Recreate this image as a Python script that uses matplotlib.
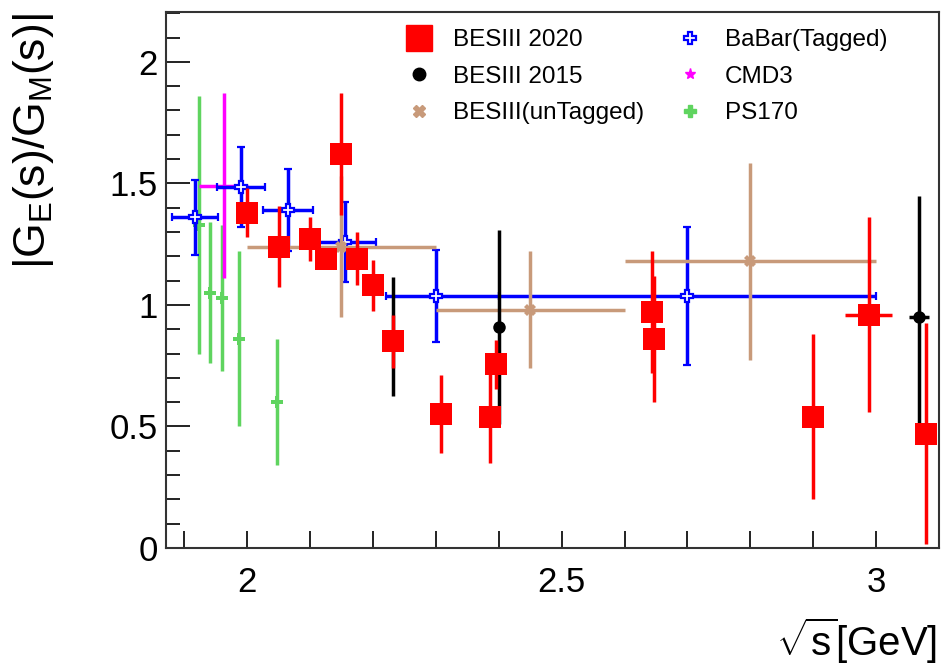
import matplotlib
matplotlib.use('Agg')
import matplotlib.pyplot as plt
from matplotlib.lines import Line2D
from matplotlib.ticker import MultipleLocator, FormatStrFormatter

plt.rcParams['font.family'] = ['Liberation Sans', 'DejaVu Sans']
plt.rcParams['mathtext.fontset'] = 'custom'
plt.rcParams['mathtext.rm'] = 'Liberation Sans'
plt.rcParams['mathtext.it'] = 'Liberation Sans'
plt.rcParams['mathtext.bf'] = 'Liberation Sans:bold'

# BESIII 2020
bes20_x = [2.0, 2.05, 2.1, 2.125, 2.15, 2.175, 2.2, 2.2324, 2.309, 2.396, 2.3864,
           2.6444, 2.6464, 2.9, 2.988, 3.08]
bes20_y = [1.38, 1.24, 1.27, 1.19, 1.62, 1.19, 1.08, 0.85, 0.55, 0.755, 0.54,
           0.97, 0.86, 0.54, 0.96, 0.47]
bes20_yerr = [0.10, 0.165, 0.09, 0.04, 0.25, 0.11, 0.105, 0.11, 0.16, 0.10, 0.19,
              0.25, 0.26, 0.34, 0.40, 0.455]
bes20_xerr = [0, 0, 0, 0, 0, 0, 0, 0, 0, 0, 0, 0, 0, 0, 0.037, 0]

# BESIII 2015
bes15_x = [2.2324, 2.4, 3.068]
bes15_y = [0.87, 0.91, 0.95]
bes15_yerr = [0.245, 0.40, 0.50]
bes15_xerr = [0, 0, 0.016]

# BESIII untagged
untag_x = [2.15, 2.45, 2.8]
untag_y = [1.24, 0.98, 1.18]
untag_xerr = [0.15, 0.15, 0.20]
untag_yerr = [0.29, 0.24, 0.405]

# BaBar tagged
babar_x = [1.917, 1.99, 2.065, 2.155, 2.30, 2.70]
babar_y = [1.36, 1.485, 1.39, 1.26, 1.036, 1.036]
babar_xlo = [0.037, 0.038, 0.04, 0.05, 0.08, 0.30]
babar_xhi = [0.037, 0.038, 0.04, 0.05, 0.10, 0.30]
babar_yerr = [0.155, 0.163, 0.17, 0.165, 0.19, 0.285]

# CMD3
cmd3_x = [1.963]
cmd3_y = [1.49]
cmd3_xerr = [0.039]
cmd3_yerr = [0.38]

# PS170
ps170_x = [1.923, 1.941, 1.960, 1.987, 2.047]
ps170_y = [1.33, 1.05, 1.03, 0.86, 0.60]
ps170_yerr = [0.53, 0.29, 0.30, 0.36, 0.26]

RED = '#ff0000'
BROWN = '#c89a7a'
BLUE = '#0000ff'
MAGENTA = '#ff00ff'
GREEN = '#5fd45f'


def draw_set(ax, x, y, xerr, yerr, color, marker, ms, z, mfc=None, mew=0.0, caps=3.0):
    ax.errorbar(x, y, xerr=xerr, yerr=yerr, fmt=marker, color=color, ecolor=color,
                elinewidth=2.5, capsize=caps, capthick=2.5, ms=ms,
                mfc=color if mfc is None else mfc, mec=color, mew=mew, zorder=z)


fig = plt.figure(figsize=(9.41, 6.66), dpi=100)
ax = fig.add_axes([166 / 941, 1 - 548 / 666, (939 - 166) / 941, (548 - 12) / 666])

draw_set(ax, ps170_x, ps170_y, None, ps170_yerr, GREEN, 'P', 8.5, 2)
draw_set(ax, cmd3_x, cmd3_y, cmd3_xerr, cmd3_yerr, MAGENTA, '*', 6, 2.5, caps=0)
draw_set(ax, babar_x, babar_y, [babar_xlo, babar_xhi], babar_yerr, BLUE, 'P', 9, 3,
         mfc='white', mew=1.6)
draw_set(ax, untag_x, untag_y, untag_xerr, untag_yerr, BROWN, 'X', 9, 4)
draw_set(ax, bes15_x, bes15_y, bes15_xerr, bes15_yerr, 'black', 'o', 9, 5)
draw_set(ax, bes20_x, bes20_y, bes20_xerr, bes20_yerr, RED, 's', 15.8, 6)

ax.set_xlim(1.871, 3.1)
ax.set_ylim(0, 2.205)
ax.xaxis.set_major_locator(MultipleLocator(0.5))
ax.xaxis.set_minor_locator(MultipleLocator(0.1))
ax.yaxis.set_major_locator(MultipleLocator(0.5))
ax.yaxis.set_minor_locator(MultipleLocator(0.1))
ax.xaxis.set_major_formatter(FormatStrFormatter('%g'))
ax.yaxis.set_major_formatter(FormatStrFormatter('%g'))
ax.tick_params(axis='both', which='both', direction='in', top=False, right=False,
               labelsize=25, width=1.4, color='#222222')
ax.tick_params(axis='y', which='major', length=17, pad=6)
ax.tick_params(axis='y', which='minor', length=10)
ax.tick_params(axis='x', which='major', length=12, pad=13)
ax.tick_params(axis='x', which='minor', length=12)
for sp in ax.spines.values():
    sp.set_linewidth(1.5)
    sp.set_color('#333333')

fig.text(34 / 941, 1 - 13 / 666, r'$|G_{E}(s)/G_{M}(s)|$', rotation=90,
         ha='center', va='top', fontsize=32)
fig.text(937 / 941, 1 - 641 / 666, r'$\sqrt{s}$[GeV]', ha='right', va='center',
         fontsize=29)

handles = [
    Line2D([], [], ls='none', marker='s', ms=18.7, color=RED),
    Line2D([], [], ls='none', marker='o', ms=9, color='black'),
    Line2D([], [], ls='none', marker='X', ms=9, color=BROWN),
    Line2D([], [], ls='none', marker='P', ms=9, mfc='white', mec=BLUE, mew=1.6),
    Line2D([], [], ls='none', marker='*', ms=8, color=MAGENTA),
    Line2D([], [], ls='none', marker='P', ms=9, color=GREEN),
]
labels = ['BESIII 2020', 'BESIII 2015', 'BESIII(unTagged)',
          'BaBar(Tagged)', 'CMD3', 'PS170']
fig.legend(handles, labels, loc='upper left', bbox_to_anchor=(407 / 941, 1 - 29 / 666),
           ncol=2, frameon=False, fontsize=17.5, borderpad=0, borderaxespad=0,
           handlelength=1.0, handletextpad=0.9, labelspacing=0.6, columnspacing=1.4)

fig.savefig('out.png', dpi=100)
